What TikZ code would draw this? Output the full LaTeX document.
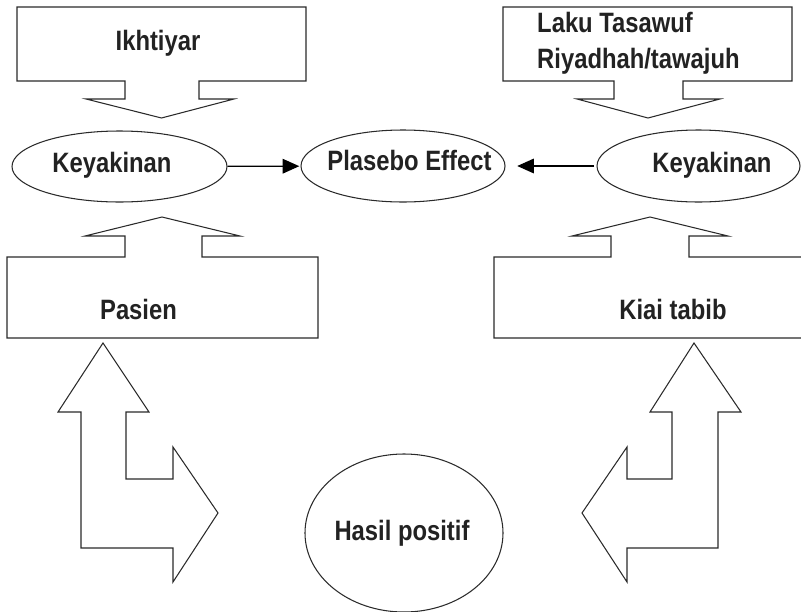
\documentclass[tikz,border=0pt]{standalone}
\usepackage{fontspec}
\setmainfont{Liberation Sans}[FakeStretch=0.85]
\usepackage{xcolor}
\usepackage{tikz}
\usetikzlibrary{arrows.meta,shapes.geometric}
\definecolor{inkline}{HTML}{2A2A2A}
\definecolor{inktext}{HTML}{222222}

\begin{document}
\begin{tikzpicture}[
    x=0.03cm, y=-0.03cm,
    font=\fontsize{23.9}{29.9}\selectfont\bfseries,
    shapeline/.style={draw=inkline, line width=0.9pt, line join=miter},
    bubble/.style={ellipse, draw=inkline, line width=0.9pt, inner sep=0pt},
    lbl/.style={text=inktext, inner sep=0pt, anchor=base},
    arrow/.style={-{Triangle[length=5mm, width=4.4mm]}, line width=1pt, draw=black}
]
\useasboundingbox (0,0) rectangle (801,612);

\draw[shapeline] (17,7) -- (306,7) -- (306,81) -- (199,81) -- (199,99) -- (234,99) -- (161.5,118)
    -- (86,99) -- (125,99) -- (125,81) -- (17,81) -- cycle;
\draw[shapeline] (503,7) -- (792,7) -- (792,81) -- (683,81) -- (683,99) -- (720,99) -- (648,118)
    -- (577,99) -- (614,99) -- (614,81) -- (503,81) -- cycle;
\draw[shapeline] (7,338) -- (318,338) -- (318,257) -- (202,257) -- (202,236) -- (240,236) -- (162,217)
    -- (85,236) -- (125,236) -- (125,257) -- (7,257) -- cycle;
\draw[shapeline] (801,338) -- (494,338) -- (494,257) -- (611,257) -- (611,236) -- (572,236) -- (650,217)
    -- (728,236) -- (689,236) -- (689,257) -- (801,257);

\draw[shapeline] (103,343) -- (149,412) -- (126,412) -- (126,479) -- (173,479) -- (173,447) -- (218,513)
    -- (173,582) -- (173,548) -- (81,548) -- (81,412) -- (58,412) -- cycle;
\draw[shapeline] (694,343) -- (741,412) -- (718,412) -- (718,548) -- (627,548) -- (627,582) -- (582,513)
    -- (627,447) -- (627,479) -- (672,479) -- (672,412) -- (650,412) -- cycle;

\node[bubble, minimum width=6.45cm, minimum height=2.13cm] (keyL) at (119.5,166.5) {};
\node[bubble, minimum width=6.12cm, minimum height=2.16cm] (plasebo) at (403,166) {};
\node[bubble, minimum width=6.09cm, minimum height=2.16cm] (keyR) at (698.5,166) {};
\node[bubble, minimum width=5.94cm, minimum height=4.74cm] (hasil) at (404,533) {};

\node[lbl] (ikhtiyar) at (158,50) {Ikhtiyar};
\node[lbl, anchor=base west, align=left] (laku) at (537,68) {Laku Tasawuf\\Riyadhah/tawajuh};
\node[lbl] (keyLtxt) at (112,172) {Keyakinan};
\node[lbl] (plasebotxt) at (409.5,170) {Plasebo Effect};
\node[lbl] (keyRtxt) at (712,172) {Keyakinan};
\node[lbl] (pasien) at (138.5,319) {Pasien};
\node[lbl] (kiai) at (673,319) {Kiai tabib};
\node[lbl] (hasiltxt) at (402,540) {Hasil positif};

\draw[arrow, shorten >=1pt] (keyL) -- (plasebo);
\draw[arrow, shorten >=10pt, shorten <=2pt] (keyR) -- (plasebo);
\end{tikzpicture}
\end{document}
